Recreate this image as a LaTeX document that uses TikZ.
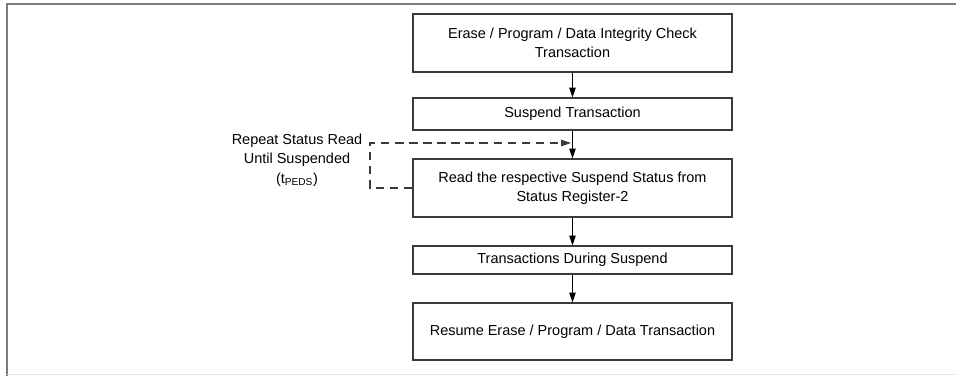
\documentclass[tikz,border=0pt]{standalone}
\usepackage{fontspec}
\setmainfont{Liberation Sans}
\definecolor{BoxLine}{HTML}{3A3A3A}
\definecolor{FrameGray}{HTML}{7A7A7A}
\definecolor{FrameLight}{HTML}{E2E2E2}
\usetikzlibrary{arrows.meta,positioning}

\tikzset{
  flowbox/.style={draw=BoxLine,line width=0.8pt,fill=white,minimum width=7.975cm,
    align=center,inner sep=2pt,font=\fontsize{10.3}{13.8}\selectfont},
  flowarrow/.style={draw=black,line width=0.75pt,-{Triangle[length=7pt,width=4.6pt]}},
  looparrow/.style={draw=BoxLine,line width=0.75pt,dash pattern=on 6pt off 4pt,
    -{Triangle[length=7pt,width=4.6pt]}}
}

\begin{document}
\begin{tikzpicture}[x=0.025cm,y=-0.025cm]
      \useasboundingbox (0,0) rectangle (956,376);
      % frame of the figure
      \draw[FrameGray,line width=1.4pt] (7,376) -- (7,4) -- (956,4);
      \draw[FrameLight,line width=0.8pt] (7,374.5) -- (956,374.5);
      % steps
      \node[flowbox,minimum height=1.45cm] (erase) at (572.5,43) {Erase / Program / Data Integrity Check\\Transaction};
      \node[flowbox,minimum height=0.8cm] (suspend) at (572.5,114) {Suspend Transaction};
      \node[flowbox,minimum height=1.45cm] (status) at (572.5,188) {Read the respective Suspend Status from\\Status Register-2};
      \node[flowbox,minimum height=0.7cm] (during) at (572.5,260) {Transactions During Suspend};
      \node[flowbox,minimum height=1.425cm] (resume) at (572.5,331.5) {Resume Erase / Program / Data Transaction};
      \draw[flowarrow] (erase) -- (suspend);
      \draw[flowarrow] (suspend) -- (status);
      \draw[flowarrow] (status) -- (during);
      \draw[flowarrow] (during) -- (resume);
      % polling loop
      \coordinate (loopleft) at (370,188);
      \coordinate (loopend) at (571,143);
      \draw[looparrow] (status.west) -- (loopleft) |- (loopend);
      \node[align=center,font=\fontsize{10.3}{13.8}\selectfont] (repeat) at (297,160)
        {Repeat Status Read\\Until Suspended\\(t\textsubscript{PEDS})};
    \end{tikzpicture}
\end{document}
